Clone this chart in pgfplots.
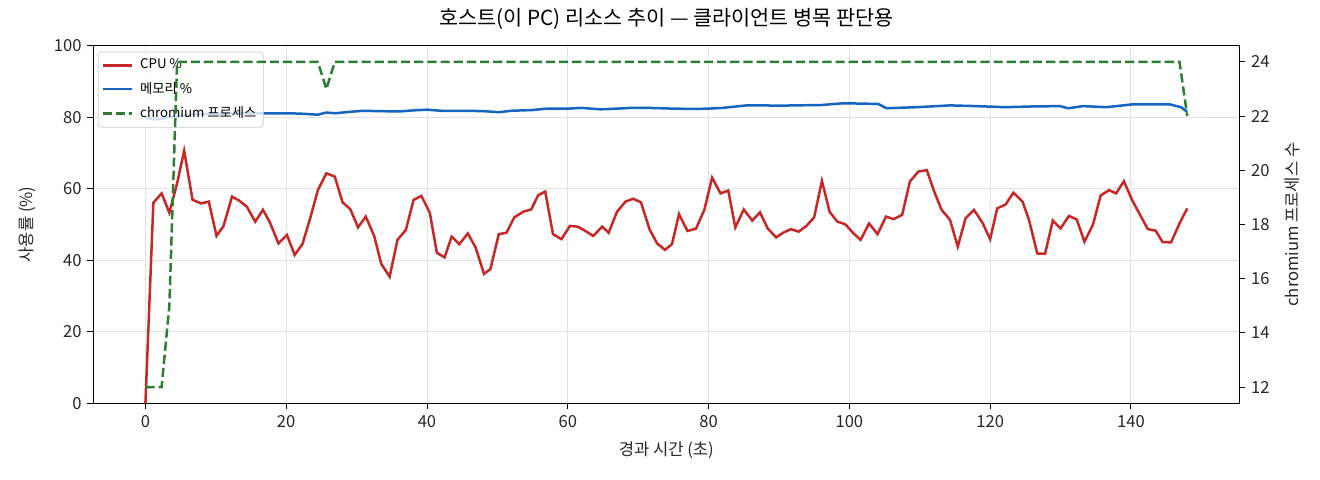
\documentclass[border=0pt]{standalone}
\usepackage{fontspec}
\setmainfont{Noto Sans CJK KR}
\usepackage{pgfplots}
\pgfplotsset{compat=1.18}

\definecolor{cpured}{HTML}{C62828}
\definecolor{memblue}{HTML}{1565C0}
\definecolor{procgreen}{HTML}{2E7D32}
\definecolor{gridgray}{HTML}{E3E3E3}

% shared geometry of both axes (1 px of the reference = 0.6bp)
\pgfplotsset{
  base/.style={
    scale only axis, width=687.6bp, height=214.6bp,
    at={(0,0)}, anchor=south west,
    xmin=-7.4, xmax=155.4,
    tick align=outside, major tick length=3.5bp,
    every tick/.style={black, line width=0.6pt},
    axis line style={line width=0.6pt},
    ticklabel style={font=\fontsize{10}{12}\selectfont, text=black!85},
    /pgf/number format/assume math mode=true,
    label style={font=\fontsize{10}{12}\selectfont, text=black!85},
  },
}

\begin{document}
\begin{tikzpicture}
\begin{axis}[base,
    ymin=0, ymax=100,
    xtick={0,20,...,140}, ytick={0,20,...,100},
    xtick pos=lower, ytick pos=left,
    grid=major, grid style={gridgray, line width=0.6pt},
    xlabel={경과 시간 (초)}, ylabel={사용률 (\%)},
    xlabel style={at={(axis description cs:0.5,-0.147)}, anchor=base},
    ylabel style={at={(axis description cs:-0.058,0.5)}, anchor=center},
    title={호스트(이 PC) 리소스 추이 — 클라이언트 병목 판단용},
    title style={at={(axis description cs:0.5,1.0285)}, anchor=base,
      font=\fontsize{12.5}{14}\selectfont},
    legend cell align=left,
    legend style={at={(axis description cs:0.004,0.983)}, anchor=north west,
      font=\fontsize{8}{9.6}\selectfont, draw=black!20, rounded corners=2pt,
      fill=white, fill opacity=0.8, text opacity=1,
      row sep=2.6bp, inner sep=2.2bp,
      /tikz/every odd column/.append style={column sep=2.5bp}},
]
\addplot[cpured, line width=1.5bp] coordinates {
(0,0) (1.13,56.1) (2.3,58.7) (3.4,53.3) (4.5,61.5) (5.5,70.6) (6.7,56.9)
(7.9,55.9) (9.0,56.4) (10.1,46.8) (11.1,49.6) (12.3,57.8) (13.3,56.7)
(14.4,55.0) (15.6,50.8) (16.7,54.1) (17.7,50.5) (18.9,44.7) (20.1,47.1)
(21.2,41.5) (22.3,44.5) (23.4,51.7) (24.5,59.6) (25.7,64.3) (26.9,63.4)
(28.0,56.2) (29.1,54.3) (30.2,49.2) (31.3,52.2) (32.5,46.8) (33.5,39.0)
(34.7,35.4) (35.8,45.7) (37.0,48.5) (38.1,56.9) (39.2,58.0) (40.4,53.3)
(41.4,42.1) (42.5,40.8) (43.5,46.6) (44.6,44.5) (45.8,47.5) (46.9,43.6)
(48.1,36.2) (49.0,37.5) (50.2,47.3) (51.3,47.7) (52.4,52.0) (53.7,53.6)
(54.8,54.2) (55.8,58.2) (56.8,59.2) (57.9,47.3) (59.1,45.9) (60.3,49.6)
(61.4,49.4) (62.5,48.2) (63.6,46.8) (64.9,49.4) (65.8,47.7) (67.0,53.6)
(68.2,56.4) (69.3,57.2) (70.4,56.2) (71.6,48.7) (72.7,44.7) (73.8,42.9)
(74.8,44.5) (75.8,52.9) (77.0,48.2) (78.2,48.8) (79.4,54.1) (80.5,63.1)
(81.7,58.7) (82.8,59.5) (83.8,49.2) (85.0,54.2) (86.2,51.1) (87.3,53.4)
(88.4,48.9) (89.6,46.4) (90.6,47.7) (91.7,48.7) (92.8,48.0) (93.9,49.6)
(95.0,52.0) (96.1,62.2) (97.2,53.5) (98.3,50.8) (99.4,50.1) (100.6,47.5)
(101.6,45.7) (102.8,50.3) (104.0,47.3) (105.2,52.2) (106.3,51.5) (107.5,52.7)
(108.6,62.0) (109.8,64.8) (111.0,65.2) (112.0,59.5) (113.1,54.1) (114.3,51.3)
(115.4,43.8) (116.5,51.7) (117.7,54.1) (118.9,50.5) (120.0,45.9) (121.0,54.5)
(122.2,55.6) (123.3,58.9) (124.6,56.4) (125.5,51.4) (126.7,41.9) (127.8,41.8)
(128.9,51.1) (130.0,48.9) (131.2,52.4) (132.3,51.4) (133.4,45.2) (134.6,49.9)
(135.7,58.1) (136.9,59.6) (137.9,58.7) (139.0,62.1) (140.2,56.7) (141.3,52.7)
(142.4,48.7) (143.5,48.3) (144.5,45.1) (145.7,45.0) (146.9,50.3) (148.0,54.5)
};
\addlegendentry{CPU \%}
\addplot[memblue, line width=1.5bp] coordinates {
(0,80.0) (1.1,79.4) (2.3,79.6) (4.5,80.3) (7,80.8) (10,81.0) (15,81.1)
(20,81.1) (22,81.0) (24.5,80.7) (25.7,81.3) (27,81.1) (29,81.5) (31,81.8)
(33,81.7) (36,81.6) (38,81.9) (40,82.1) (42,81.8) (45,81.8) (48,81.7)
(50.2,81.4) (52,81.8) (55,82.0) (57,82.4) (60,82.4) (62,82.6) (64.6,82.2)
(66,82.3) (69,82.6) (71.5,82.6) (75,82.4) (78,82.3) (80,82.4) (82,82.6)
(85.4,83.3) (88,83.3) (90,83.2) (92,83.3) (96,83.4) (99.2,83.9) (104.1,83.7)
(105.3,82.5) (109.6,82.8) (114.3,83.3) (118,83.1) (122.1,82.8) (126,83.0)
(129.9,83.1) (131.1,82.5) (133.2,83.1) (136.5,82.8) (140.3,83.6) (145.5,83.6)
(147.1,82.8) (148.0,81.5)
};
\addlegendentry{메모리 \%}
\addlegendimage{procgreen, line width=1.5bp, dash pattern=on 5.5bp off 2.4bp}
\addlegendentry{chromium 프로세스}
\end{axis}

\begin{axis}[base,
    axis x line=none, axis y line*=right,
    ymin=11.4, ymax=24.6, ytick={12,14,...,24},
    ylabel={chromium 프로세스 수},
    ylabel style={at={(axis description cs:1.046,0.5)}, anchor=center},
]
\addplot[procgreen, line width=1.5bp, dash pattern=on 5.5bp off 2.4bp] coordinates {
(0,12) (1.13,12) (2.3,12) (3.4,15) (4.5,24) (5.5,24) (24.5,24) (25.7,23)
(26.9,24) (146.9,24) (148.0,22)
};
\end{axis}
\pgfresetboundingbox
\path[use as bounding box] (-56bp,-46bp) rectangle (736bp,242bp);
\end{tikzpicture}
\end{document}
